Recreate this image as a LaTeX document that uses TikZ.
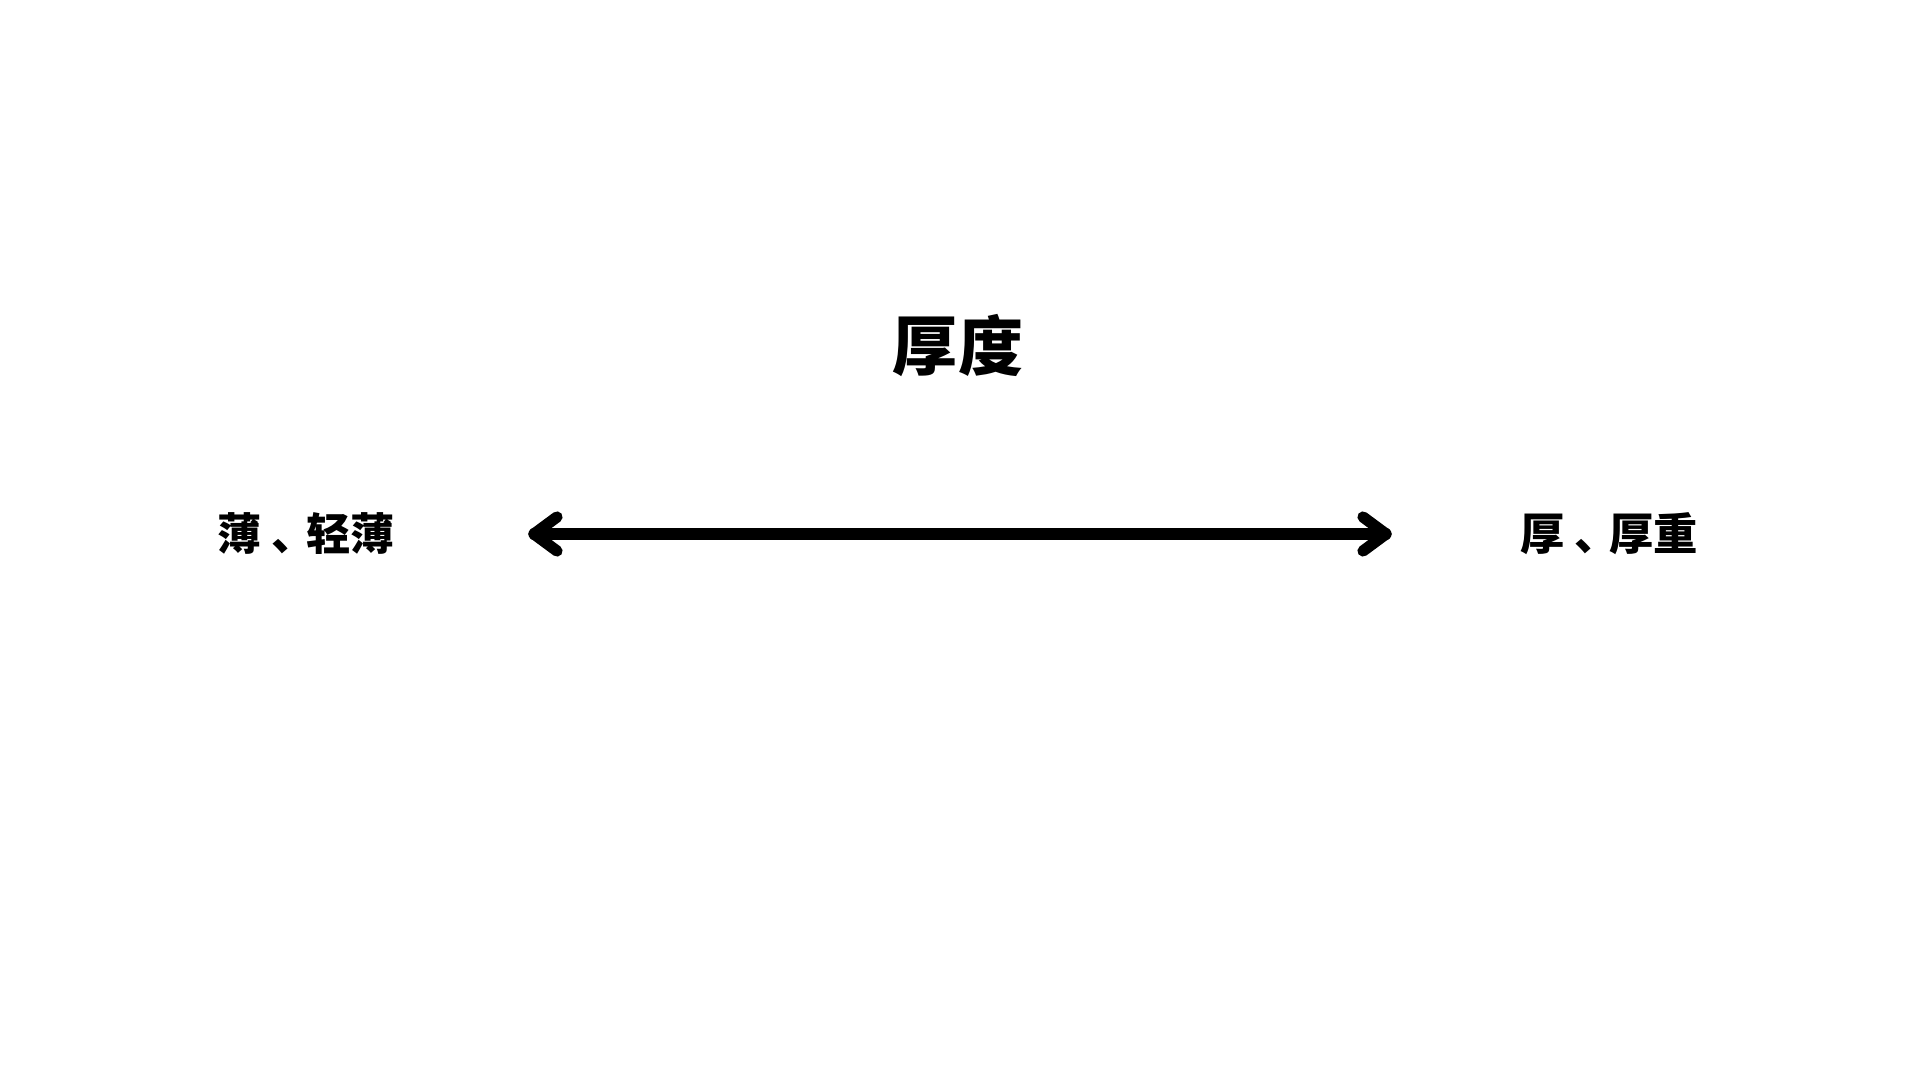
\documentclass[tikz,border=0pt]{standalone}
\usepackage{fontspec}
\newfontfamily\cjk{Noto Sans CJK SC}
\usetikzlibrary{calc}
\newcommand{\midcomma}{\hspace{0.22em}、\hspace{-0.22em}}
\tikzset{
  title/.style={font=\cjk\bfseries\fontsize{18.5pt}{22pt}\selectfont, inner sep=0pt},
  pole/.style={font=\cjk\bfseries\fontsize{12.6pt}{15pt}\selectfont, inner sep=0pt},
  axisline/.style={line width=3.2pt, line cap=round, line join=round, black}
}
\begin{document}
\begin{tikzpicture}[x=0.01cm,y=-0.01cm]
\useasboundingbox[fill=white] (0,0) rectangle (1920,1080);
\node[title] (t) at (958,346) {厚度};
\node[pole] (lo) at (306,534) {薄\midcomma 轻薄};
\node[pole] (hi) at (1609,534) {厚\midcomma 厚重};
\coordinate (L) at (534,534);
\coordinate (R) at (1386,534);
\draw[axisline] (L) -- (R);
\draw[axisline] ($(L)+(23,-17)$) -- (L) -- ($(L)+(23,17)$);
\draw[axisline] ($(R)+(-23,-17)$) -- (R) -- ($(R)+(-23,17)$);
\end{tikzpicture}
\end{document}
